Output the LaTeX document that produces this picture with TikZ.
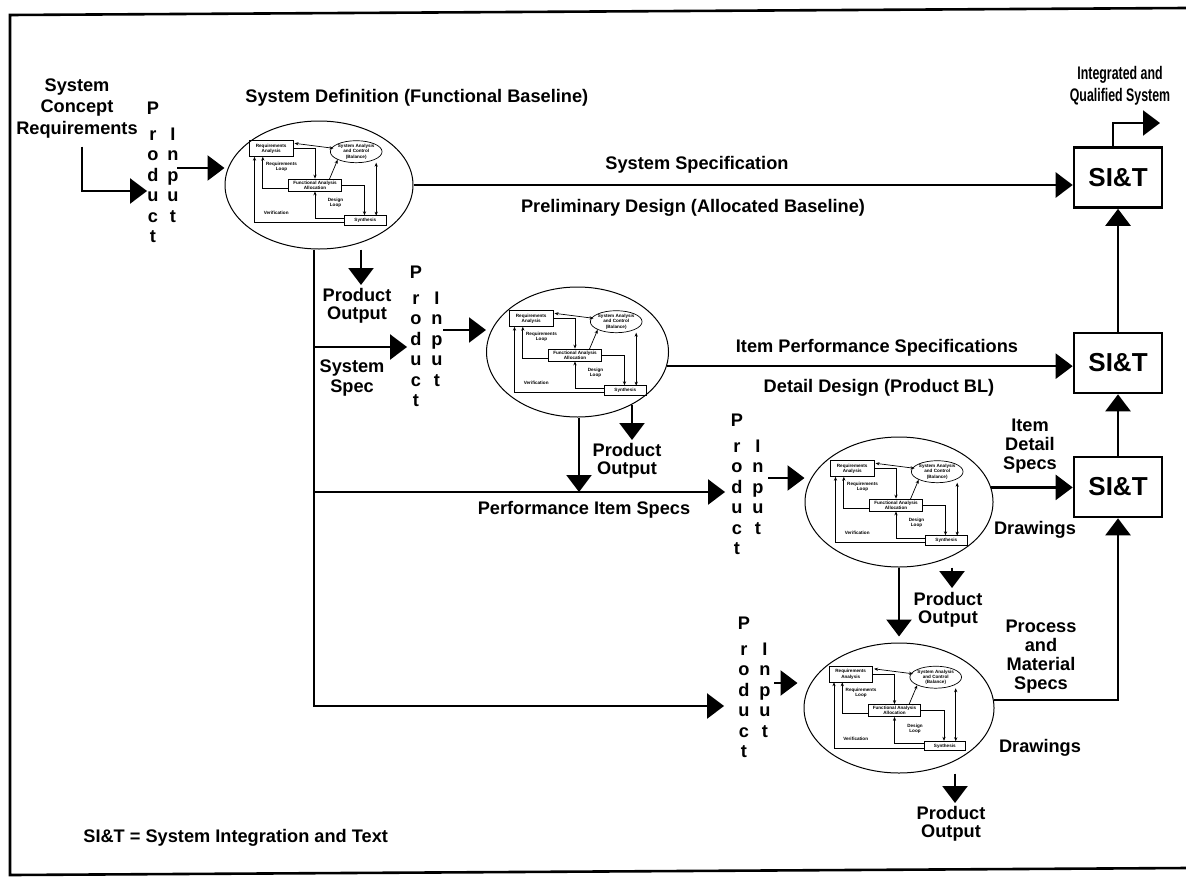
\documentclass[tikz,border=0pt]{standalone}
\usepackage{fontspec}
\setmainfont{Liberation Sans}
\usetikzlibrary{arrows.meta,shapes.geometric,calc}
\newcommand\prodinput[4]{%
  \foreach \ch/\dy [count=\i] in {P/0,r/26,o/46.5,d/67,u/87.5,c/108,t/128.5}
    \node[ltr] (#1p\i) at (#2,#4+\dy) {\ch};
  \foreach \ch/\dy [count=\i] in {I/26,n/46.5,p/67,u/87.5,t/108}
    \node[ltr] (#1i\i) at (#3,#4+\dy) {\ch};
}
\tikzset{
  lbl/.style={font=\fontsize{9.1}{9}\selectfont\bfseries, inner sep=0, align=center},
  ltr/.style={font=\fontsize{9.1}{10}\selectfont\bfseries, inner sep=0, anchor=base},
  flow/.style={line width=1.2pt},
  arr/.style={flow, -{Triangle[length=8.5pt,width=12.5pt]}},
  stage/.style={ellipse, draw, line width=0.5pt, inner sep=0},
  sit/.style={draw, line width=1.3pt, minimum width=44pt, minimum height=30pt, inner sep=0,
    font=\fontsize{13}{15}\selectfont\bfseries},
  sa/.style={-{Stealth[length=2pt,width=1.6pt]}},
  dsa/.style={{Stealth[length=2pt,width=1.6pt]}-{Stealth[length=2pt,width=1.6pt]}},
  minibox/.style={draw, inner sep=0, align=center},
  minitxt/.style={inner sep=0, align=center},
  innerdiag/.pic={
    \begin{scope}[line width=0.35pt, font=\fontsize{2.3}{2.6}\selectfont\bfseries]
      \node[minibox, minimum width=21.65pt, minimum height=8pt] (-ra) at (-43.8,-36.3) {Requirements\\Analysis};
      \node[minibox, ellipse, minimum width=21.7pt, minimum height=11pt] (-sa) at (41.2,-33.3) {System Analysis\\and Control\\(Balance)};
      \node[minibox, minimum width=26.2pt, minimum height=6pt] (-fa) at (0,0) {Functional Analysis\\Allocation};
      \node[minibox, minimum width=20.85pt, minimum height=4.65pt] (-syn) at (50.3,35.3) {Synthesis};
      \node[minitxt] (-rl) at (-33.5,-18) {Requirements\\Loop};
      \node[minitxt] (-dl) at (20.5,18) {Design\\Loop};
      \node[minitxt] (-ve) at (-38.8,28.3) {Verification};
      \draw[dsa] (-20.5,-41.7) -- (18.5,-36.7);
      \draw[sa] (-ra.east) -| (-fa.north);
      \draw[sa] (14.5,-6) -- (-sa.south west);
      \draw[sa] (-26.2,3.3) -| (-52.2,-28.3);
      \draw[sa] (-fa.east) -| (-syn.north -| 49.5,0);
      \draw[sa] (29.5,33) -| (-fa.south);
      \draw[sa] (29.5,37.5) -| (-60.5,-28.3);
      \draw[dsa] (61.2,-22.3) -- (61.2,30.7);
    \end{scope}
  }
}
\begin{document}
\begin{tikzpicture}[x=0.5pt,y=-0.5pt]
\useasboundingbox (0,0) rectangle (1186,878);
% frame
\draw[line width=1.3pt] (1186,8) -- (10,15) -- (10,875) -- (1186,868);

% stages
\node[stage, minimum width=94pt, minimum height=64pt] (E1) at (319,185) {};
\node[stage, minimum width=91pt, minimum height=65pt] (E2) at (577.5,352) {};
\node[stage, minimum width=94pt, minimum height=65pt] (E3) at (899,502) {};
\node[stage, minimum width=95pt, minimum height=65pt] (E4) at (899,708) {};
\pic (P1) at (315,185) {innerdiag};
\pic (P2) at (575,355) {innerdiag};
\pic (P3) at (896,505) {innerdiag};
\pic (P4) at (894.5,710.5) {innerdiag};

% SI&T boxes
\node[sit] (S1) at (1118,177.5) {SI\&T};
\node[sit] (S2) at (1118,363) {SI\&T};
\node[sit] (S3) at (1118,487) {SI\&T};

% product / input columns
\prodinput{ga}{153}{173}{114}
\prodinput{gb}{416}{437}{278}
\prodinput{gc}{737}{758}{426}
\prodinput{gd}{744}{765}{629}

% labels
\node[lbl, font=\fontsize{9.1}{10.75}\selectfont\bfseries] (sc) at (77,108.5) {System\\Concept\\Requirements};
\node[lbl, anchor=west] (sd) at (245,98) {System Definition (Functional Baseline)};
\node[lbl] (ss) at (697,165) {System Specification};
\node[lbl] (pd) at (693,208) {Preliminary Design (Allocated Baseline)};
\node[lbl] (po1) at (357,306) {Product\\Output};
\node[lbl, font=\fontsize{9.1}{10}\selectfont\bfseries] (sys) at (352,378) {System\\Spec};
\node[lbl] (po2) at (627,461) {Product\\Output};
\node[lbl] (ip) at (877,348) {Item Performance Specifications};
\node[lbl] (dd) at (879,388) {Detail Design (Product BL)};
\node[lbl] (pis) at (584,510) {Performance Item Specs};
\node[lbl] (po3) at (948,610) {Product\\Output};
\node[lbl, font=\fontsize{9.1}{9.5}\selectfont\bfseries] (ids) at (1030,446) {Item\\Detail\\Specs};
\node[lbl] (dr1) at (1035,530) {Drawings};
\node[lbl, font=\fontsize{9.1}{9.5}\selectfont\bfseries] (pms) at (1041,657) {Process\\and\\Material\\Specs};
\node[lbl] (dr2) at (1040,748) {Drawings};
\node[lbl] (po4) at (951,824) {Product\\Output};
\node[lbl, font=\fontsize{9.1}{11}\selectfont\bfseries, transform shape, xscale=0.68] (iqs) at (1120,86) {Integrated and\\Qualified System};
\node[lbl, anchor=west] (leg) at (83,838) {SI\&T = System Integration and Text};

% coordinates
\coordinate (c1) at (82,191);
\coordinate (o1) at (177,168);
\coordinate (o2) at (443,330);
\coordinate (o3) at (768,478);
\coordinate (o4) at (774,683);
\coordinate (tA) at (314,347);
\coordinate (tB) at (314,492);
\coordinate (tC) at (314,706);
\coordinate (p2) at (579,492);
\coordinate (a1) at (361,285);
\coordinate (a2) at (632,440);
\coordinate (a3) at (952,588);
\coordinate (a4) at (955,803);
\coordinate (q1) at (1113,123);
\coordinate (q2) at (1160,123);

% connectors
\draw[arr] ([yshift=-4pt]sc.south -| c1) -- (c1) -- (gap4.west |- c1);
\draw[arr] (o1) -- (E1.west |- o1);
\draw[arr] (o2) -- (E2.west |- o2);
\draw[arr] (o3) -- (E3.west |- o3);
\draw[arr] (o4) -- ([xshift=-3pt]E4.west |- o4);
\draw[arr] (E1.south -| tC) -- (tC) -- ([xshift=-7pt]gdp4.west |- tC);
\draw[arr] (tA) -- ([xshift=-1.5pt]gbp4.west |- tA);
\draw[arr] (tB) -- ([xshift=-3pt]gcp4.west |- tB);
\draw[arr] (E1.south -| a1) -- (a1);
\draw[arr] (E2.south -| p2) -- (p2);
\draw[arr] (E2.-44 -| a2) -- (a2);
\draw[arr] (E3.south) -- ([yshift=3pt]E4.north);
\draw[arr] (E3.south -| a3) -- (a3);
\draw[arr] (E4.south -| a4) -- (a4);
\draw[arr] (E1.east) -- (E1.east -| S1.west);
\draw[arr] (E2.-9) -- (E2.-9 -| S2.west);
\draw[arr] (E3.9) -- (E3.9 -| S3.west);
\draw[arr] (E4.5) -| (S3.south);
\draw[arr] (S3.north) -- (S2.south);
\draw[arr] (S2.north) -- (S1.south);
\draw[arr] (S1.north -| q1) -- (q1) -- (q2);
\end{tikzpicture}
\end{document}
